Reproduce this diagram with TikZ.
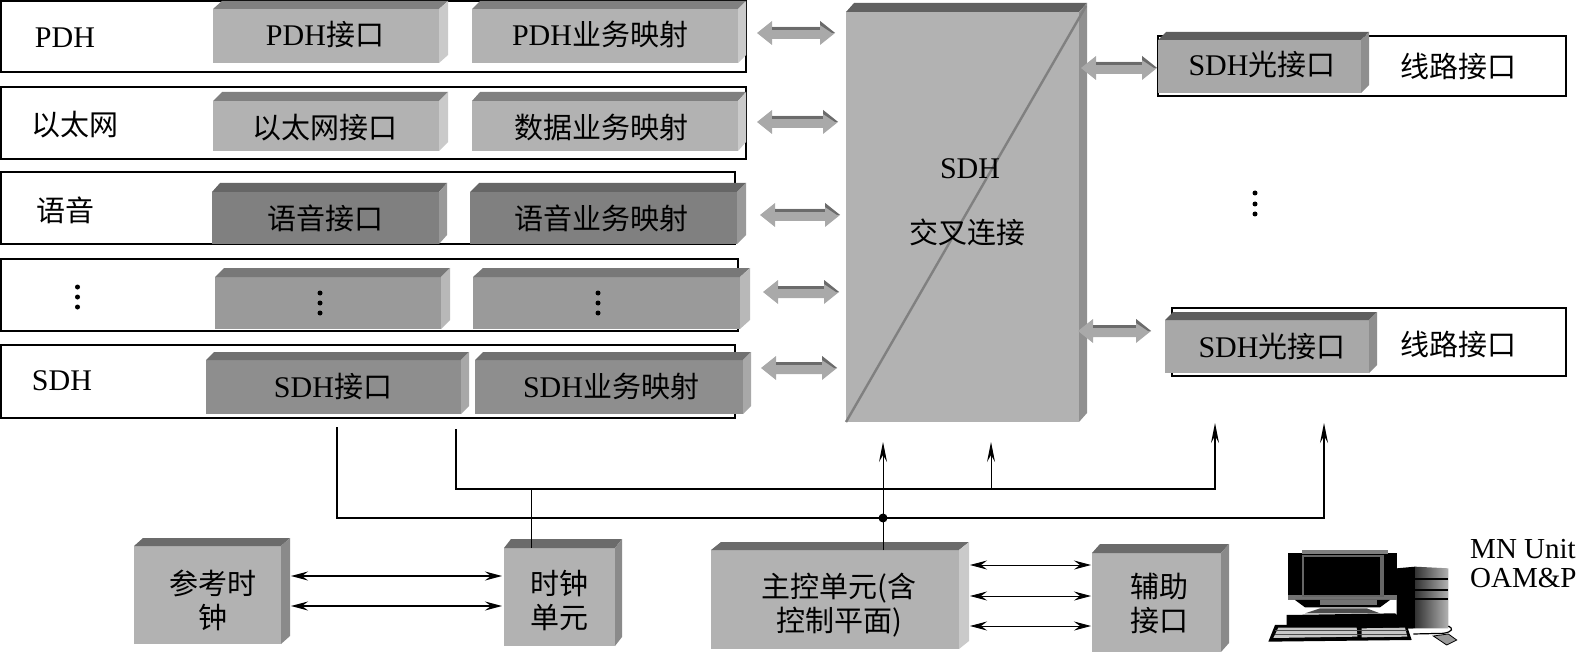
\documentclass[tikz,border=0pt]{standalone}
\usepackage{fontspec}
\setmainfont{Liberation Serif}
\newfontfamily\cjk{Noto Sans CJK SC}
\usetikzlibrary{arrows.meta,calc}
\newcommand{\zh}[1]{{\cjk\fontsize{29}{34}\selectfont #1}}
\definecolor{lightf}{HTML}{B2B2B2}
\definecolor{lightt}{HTML}{808080}
\definecolor{lightr}{HTML}{CACACA}
\definecolor{darkf}{HTML}{808080}
\definecolor{darkt}{HTML}{666666}
\definecolor{darkr}{HTML}{999999}
\definecolor{midf}{HTML}{9A9A9A}
\definecolor{midt}{HTML}{787878}
\definecolor{midr}{HTML}{B8B8B8}
\definecolor{sdhf}{HTML}{8E8E8E}
\definecolor{sdht}{HTML}{707070}
\definecolor{sdhr}{HTML}{A8A8A8}
\definecolor{optf}{HTML}{A8A8A8}
\definecolor{optt}{HTML}{5E5E5E}
\definecolor{optr}{HTML}{8E8E8E}
\definecolor{mainr}{HTML}{909090}
\definecolor{sider}{HTML}{8A8A8A}
\tikzset{
  frame/.style={draw=black,line width=1.6pt,fill=white,inner sep=0pt,outer sep=0pt,anchor=north west},
  txt/.style={font=\fontsize{30}{34}\selectfont,inner sep=0pt,align=center},
  twoline/.style={font=\fontsize{29}{34}\selectfont,inner sep=0pt,align=center},
  busline/.style={draw=black,line width=1.6pt},
  thinline/.style={draw=black,line width=1pt},
  vtip/.style={-{Stealth[length=20pt,width=8pt,inset=7pt]}},
  dbl/.style={{Stealth[length=17pt,width=9pt,inset=6pt]}-{Stealth[length=17pt,width=9pt,inset=6pt]}},
  vdot/.style={circle,fill=black,inner sep=0pt,minimum size=5pt},
}
% name, xl, ytop(front), xr, ybottom, depth x, depth y, front, top, right
\newcommand{\cube}[9]{%
  \node[fill=#8,inner sep=0pt,outer sep=0pt,anchor=north west,minimum width={(#4-#2)*1pt},minimum height={(#5-#3)*1pt}] (#1) at (#2,#3) {};
  \fill[cubetop] (#1.north west) -- ++(#6,-#7) -- ($(#1.north east)+(#6,-#7)$) -- (#1.north east) -- cycle;
  \fill[cuberight] (#1.north east) -- ++(#6,-#7) -- ($(#1.south east)+(#6,-#7)$) -- (#1.south east) -- cycle;
}
% frame: name, x1,y1,x2,y2
\newcommand{\frm}[5]{\node[frame,minimum width={(#4-#2)*1pt},minimum height={(#5-#3)*1pt}] (#1) at (#2,#3) {};}
% block double arrow: name, xl, xr, y
\newcommand{\barrow}[4]{%
  \coordinate (#1l) at (#2,#4);\coordinate (#1r) at (#3,#4);
  \fill[fill=lightf!95!black] (#1l) -- ++(15,-12) -- ++(0,6) -- ($(#1r)+(-15,-6)$) -- ++(0,-6) -- (#1r) -- ++(-15,12) -- ++(0,-6) -- ($(#1l)+(15,6)$) -- ++(0,6) -- cycle;
  \fill[fill=black!58] ($(#1l)+(15,-6)$) rectangle ($(#1r)+(-15,-3)$);
  \fill[fill=black!58] ($(#1r)+(-15,-12)$) -- (#1r) -- ++(-3,0) -- ($(#1r)+(-15,-8)$) -- cycle;
}
\begin{document}
\begin{tikzpicture}[x=1pt,y=-1pt]
\useasboundingbox (0,0) rectangle (1578,652);
% row frames
\frm{fa}{1}{1}{746}{72}
\frm{fb}{1}{87}{746}{159}
\frm{fc}{1}{172}{735}{244}
\frm{fd}{1}{259}{738}{331}
\frm{fe}{1}{345}{735}{418}
\frm{rf1}{1158}{36}{1566}{96}
\frm{rf2}{1172}{308}{1566}{376}
% row cubes
\tikzset{cubetop/.style={fill=lightt},cuberight/.style={fill=lightr}}
\cube{a1}{213}{9}{439}{63}{9}{8}{lightf}{}
\cube{a2}{472}{9}{738}{63}{8}{8}{lightf}{}
\cube{b1}{213}{101}{439}{151}{9}{9}{lightf}{}
\cube{b2}{472}{101}{738}{151}{8}{9}{lightf}{}
\tikzset{cubetop/.style={fill=darkt},cuberight/.style={fill=darkr}}
\cube{c1}{212}{192}{439}{244}{8}{9}{darkf}{}
\cube{c2}{470}{192}{737}{244}{9}{9}{darkf}{}
\tikzset{cubetop/.style={fill=midt},cuberight/.style={fill=midr}}
\cube{d1}{215}{277}{441}{329}{9}{9}{midf}{}
\cube{d2}{473}{277}{740}{329}{10}{9}{midf}{}
\tikzset{cubetop/.style={fill=sdht},cuberight/.style={fill=sdhr}}
\cube{e1}{206}{360}{461}{414}{8}{8}{sdhf}{}
\cube{e2}{475}{360}{743}{414}{8}{8}{sdhf}{}
% cross connect
\tikzset{cubetop/.style={fill=black!62},cuberight/.style={fill=mainr}}
\cube{main}{846}{12}{1079}{422}{8}{9}{lightf}{}
\draw[draw=black!50,line width=2.4pt] (main.south west) -- ($(main.north east)+(7,-6)$);
% line cubes
\tikzset{cubetop/.style={fill=optt},cuberight/.style={fill=optr}}
\cube{o1}{1158}{40}{1361}{93}{8}{8}{optf}{}
\cube{o2}{1165}{320}{1369}{373}{8}{8}{optf}{}
% bottom cubes
\tikzset{cubetop/.style={fill=black!58},cuberight/.style={fill=sider}}
\cube{ref}{134}{546}{281}{644}{9}{8}{lightf}{}
\cube{clk}{504}{548}{615}{646}{7}{9}{lightf}{}
\cube{aux}{1092}{553}{1221}{652}{8}{9}{lightf}{}
\tikzset{cubetop/.style={fill=black!58},cuberight/.style={fill=lightr}}
\cube{ctl}{711}{550}{959}{649}{10}{8}{lightf}{}
% block arrows
\barrow{ga}{757}{835}{33}
\barrow{gb}{757}{838}{122}
\barrow{gc}{760}{840}{215}
\barrow{gd}{763}{839}{292}
\barrow{ge}{761}{837}{368}
\barrow{gf}{1081}{1157}{68}
\barrow{gg}{1078}{1151}{331}
% buses
\coordinate (p1) at (337,427);
\coordinate (p2) at (337,518);
\coordinate (p3) at (883,518);
\coordinate (p4) at (1324,518);
\coordinate (p5) at (1324,423);
\coordinate (q1) at (456,429);
\coordinate (q2) at (456,489);
\coordinate (q3) at (531,489);
\coordinate (q4) at (991,489);
\coordinate (q5) at (1215,489);
\coordinate (q6) at (1215,423);
\coordinate (t1) at (883,442);
\coordinate (t2) at (991,442);
\draw[busline,vtip] (p1) -- (p2) -- (p3) -- (p4) -- (p5);
\draw[busline,vtip] (q1) -- (q2) -- (q3) -- (q4) -- (q5) -- (q6);
\draw[thinline] (q3) -- (q3 |- clk.north);
\draw[thinline,vtip] (ctl.north -| p3) -- (t1);
\draw[thinline,vtip] (q4) -- (t2);
\node[circle,fill=black,inner sep=0pt,minimum size=9pt] (junction) at (p3) {};
% double arrows
\coordinate (ra) at (291,576);\coordinate (rb) at (291,606);
\coordinate (ka) at (502,576);\coordinate (kb) at (502,606);
\draw[dbl,line width=1.4pt] (ra) -- (ka);
\draw[dbl,line width=1.4pt] (rb) -- (kb);
\coordinate (ca) at (970,565);\coordinate (cb) at (970,596);\coordinate (cc) at (970,626);
\coordinate (xa) at (1091,565);\coordinate (xb) at (1091,596);\coordinate (xc) at (1091,626);
\draw[dbl,line width=.9pt] (ca) -- (xa);
\draw[dbl,line width=.9pt] (cb) -- (xb);
\draw[dbl,line width=.9pt] (cc) -- (xc);
% labels
\node[txt] (la) at (65,38) {PDH};
\node[txt] (lb) at (75,125) {\zh{以太网}};
\node[txt] (lc) at (65,210) {\zh{语音}};
\node[txt] (le) at (62,381) {SDH};
\node[txt] (ta1) at (325,35) {PDH\zh{接口}};
\node[txt] (ta2) at (600,35) {PDH\zh{业务映射}};
\node[txt] (tb1) at (325,128) {\zh{以太网接口}};
\node[txt] (tb2) at (601,128) {\zh{数据业务映射}};
\node[txt] (tc1) at (325,218) {\zh{语音接口}};
\node[txt] (tc2) at (601,218) {\zh{语音业务映射}};
\node[txt] (te1) at (333,387) {SDH\zh{接口}};
\node[txt] (te2) at (611,387) {SDH\zh{业务映射}};
\node[txt] (tm1) at (970,169) {SDH};
\node[txt] (tm2) at (967,232) {\zh{交叉连接}};
\node[txt] (to1) at (1262,65) {SDH\zh{光接口}};
\node[txt] (tl1) at (1458,66) {\zh{线路接口}};
\node[txt] (to2) at (1272,347) {SDH\zh{光接口}};
\node[txt] (tl2) at (1458,344) {\zh{线路接口}};
\node[twoline] (tref) at (213,600) {\zh{参考时}\\\zh{钟}};
\node[twoline] (tclk) at (559,600) {\zh{时钟}\\\zh{单元}};
\node[twoline] (tctl) at (839,605) {\zh{主控单元(含}\\\zh{控制平面)}};
\node[twoline] (taux) at (1159,604) {\zh{辅助}\\\zh{接口}};
\node[font=\fontsize{29}{29}\selectfont,inner sep=0pt,align=left,anchor=base west] (mn) at (1470,587) {MN Unit\\OAM\&P};
% vertical dots
\foreach \nm/\x/\ya/\yb/\yc in {v1/77.5/287/297/307,v2/320/293/303/313,v3/598/293/303/313,v4/1255/193/204/214}{
  \node[vdot] (\nm a) at (\x,\ya) {};
  \node[vdot] (\nm b) at (\x,\yb) {};
  \node[vdot] (\nm c) at (\x,\yc) {};
}
% computer
\begin{scope}[shift={(1240,530)},x=0.3333pt,y=-0.3333pt]
  % tower
  \fill[black] (470,115) -- (525,110) -- (525,295) -- (470,295) -- cycle;
  \shade[left color=black!80,right color=black!30] (525,110) -- (625,115) -- (625,295) -- (525,295) -- cycle;
  \foreach \yy in {147,180,208}{\fill[black] (525,\yy-4) rectangle (625,\yy+3);}
  % desk unit
  \fill[black] (140,255) -- (465,250) -- (520,295) -- (140,295) -- cycle;
  % monitor
  \fill[black] (145,68) rectangle (472,210);
  \fill[black!50] (185,60) rectangle (445,72);
  \fill[black!55] (145,195) rectangle (472,210);
  \fill[black!60] (186,76) rectangle (432,200);
  \fill[black] (192,82) rectangle (420,195);
  \fill[black] (165,210) -- (450,210) -- (420,232) -- (195,232) -- cycle;
  \fill[black!55] (240,210) rectangle (412,225);
  \fill[black!70] (195,250) -- (240,235) -- (380,235) -- (420,250) -- cycle;
  % keyboard
  \fill[black] (105,285) -- (500,285) -- (515,330) -- (85,335) -- cycle;
  \fill[black!22] (115,293) -- (350,293) -- (352,320) -- (100,324) -- cycle;
  \fill[black!22] (365,295) -- (495,293) -- (502,320) -- (365,322) -- cycle;
  \foreach \yy in {302,312}{\draw[black!70,line width=.5pt] (105,\yy) -- (500,\yy);}
  % mouse
  \draw[black,line width=1.2pt] (520,312) -- (610,310) .. controls (640,305) and (640,295) .. (625,288);
  \fill[black!40,draw=black,line width=.8pt] (580,318) -- (625,312) -- (650,330) -- (620,345) -- cycle;
\end{scope}
\end{tikzpicture}
\end{document}
